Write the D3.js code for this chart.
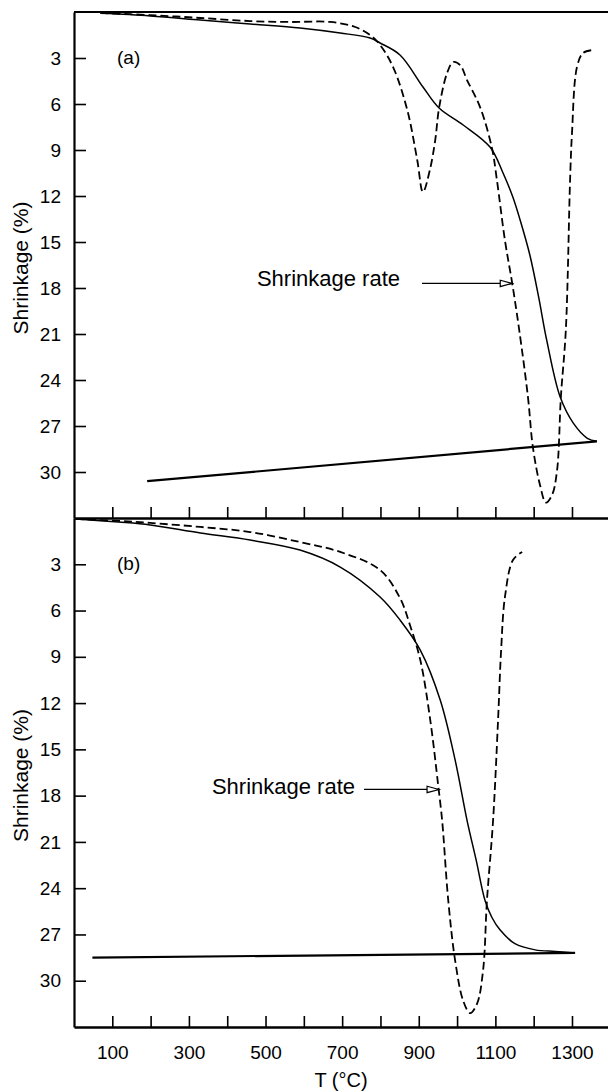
<!DOCTYPE html>
<html>
<head>
<meta charset="utf-8">
<script src="https://cdn.jsdelivr.net/npm/d3@7"></script>
<style>
  html, body { margin: 0; padding: 0; background: #fff; }
  svg { display: block; }
  text { font-family: "Liberation Sans", Arial, Helvetica, sans-serif; fill: #000; }
</style>
</head>
<body>
<svg id="chart" width="608" height="1091"></svg>
<script>
// Temperature (°C) and shrinkage (%) readings for the two dilatometer runs.
// Panel (a): shrinkage curve, shrinkage-rate curve (dashed) and the cooling line.
const aShrink = [
  [69, 0.07], [199, 0.26], [330, 0.52], [460, 0.78], [590, 1.04], [695, 1.37],
  [773, 1.70], [799, 2.02], [851, 2.80], [911, 4.89], [953, 6.26], [1016, 7.37],
  [1086, 8.81], [1120, 10.5], [1146, 12.1], [1165, 13.6], [1190, 15.85],
  [1213, 18.6], [1234, 21.4], [1269, 25.1], [1303, 26.8], [1340, 27.8], [1365, 28.0]
];
const aRate = [
  [69, 0.07], [199, 0.2], [330, 0.39], [460, 0.59], [564, 0.65], [669, 0.65],
  [734, 0.98], [773, 1.5], [799, 2.15], [833, 3.59], [870, 6.39], [896, 9.65],
  [911, 11.74], [929, 10.3], [943, 8.35], [953, 6.26], [974, 3.98], [990, 3.26],
  [1008, 3.46], [1026, 4.44], [1060, 6.2], [1091, 8.87], [1104, 10.96],
  [1125, 14.9], [1144, 17.7], [1162, 20.7], [1185, 25.1], [1198, 28.4],
  [1217, 30.9], [1232, 32.0], [1248, 31.5], [1261, 29.9], [1271, 25.1],
  [1284, 20.7], [1295, 10.96], [1300, 7.9], [1313, 3.59], [1329, 2.67], [1355, 2.48]
];
const aCooling = [[191, 30.6], [1365, 28.0]];

// Panel (b)
const bShrink = [
  [5, 0.06], [116, 0.26], [199, 0.45], [330, 0.97], [460, 1.43], [590, 2.08],
  [695, 3.18], [799, 5.12], [851, 6.61], [904, 8.56], [956, 11.8], [995, 15.7],
  [1026, 19.6], [1050, 22.2], [1073, 24.8], [1091, 25.9], [1112, 26.7],
  [1151, 27.6], [1204, 28.0], [1256, 28.1], [1308, 28.2]
];
const bRate = [
  [5, 0.06], [116, 0.19], [199, 0.32], [330, 0.58], [460, 0.91], [590, 1.56],
  [695, 2.2], [799, 3.37], [851, 5.19], [877, 6.94], [904, 9.21], [930, 13.1],
  [951, 17.4], [961, 19.6], [977, 24.8], [995, 28.7], [1016, 31.3], [1034, 32.1],
  [1052, 31.5], [1068, 29.3], [1078, 24.8], [1094, 19.6], [1107, 13.1],
  [1115, 8.56], [1125, 5.12], [1146, 2.72], [1170, 2.2]
];
const bCooling = [[48, 28.5], [1308, 28.2]];

// Axis ticks and labels
const tempTicks = [100, 200, 300, 400, 500, 600, 700, 800, 900, 1000, 1100, 1200, 1300];
const tempLabels = [100, 300, 500, 700, 900, 1100, 1300];
const shrinkTicks = [3, 6, 9, 12, 15, 18, 21, 24, 27, 30];
const panelNames = ["(a)", "(b)"];
const rateLabel = "Shrinkage rate";
// Point on each rate curve that the label arrow touches: [T, shrinkage]
const rateArrowTips = [[1144, 17.7], [953, 17.6]];

const svg = d3.select("#chart");

const x = d3.scaleLinear().domain([0, 1394]).range([74, 608]);
const yA = d3.scaleLinear().domain([0, 33]).range([12, 518]);
const yB = d3.scaleLinear().domain([0, 33]).range([518, 1027]);

const panels = [
  { y: yA, shrink: aShrink, rate: aRate, cooling: aCooling, name: panelNames[0],
    tip: rateArrowTips[0], labelEnd: 400, labelGap: 22, labelDy: 3 },
  { y: yB, shrink: bShrink, rate: bRate, cooling: bCooling, name: panelNames[1],
    tip: rateArrowTips[1], labelEnd: 355, labelGap: 9, labelDy: 5 }
];

panels.forEach((p, i) => {
  const g = svg.append("g");
  const line = d3.line()
    .x(d => x(d[0]))
    .y(d => p.y(d[1]))
    .curve(d3.curveCatmullRom.alpha(0.5));

  // Left axis with inward ticks
  const yAxis = d3.axisLeft(p.y)
    .tickValues(shrinkTicks)
    .tickSizeInner(-12)
    .tickSizeOuter(0)
    .tickPadding(13)
    .tickFormat(d3.format("d"));
  const ya = g.append("g").attr("transform", `translate(${x(0)},0)`).call(yAxis);
  ya.select(".domain").attr("stroke-width", 2.2);
  ya.selectAll(".tick line").attr("stroke-width", 1.6);
  ya.selectAll(".tick text").attr("font-size", 19)
    .attr("font-family", "'Liberation Sans', Arial, sans-serif");

  // Bottom axis (inward ticks); labels only under the lower panel
  const xAxis = d3.axisBottom(x)
    .tickValues(tempTicks)
    .tickSizeInner(-11)
    .tickSizeOuter(0)
    .tickPadding(19)
    .tickFormat(d => (i === 1 && tempLabels.includes(d)) ? d : "");
  const xa = g.append("g").attr("transform", `translate(0,${p.y.range()[1]})`).call(xAxis);
  xa.select(".domain").attr("stroke-width", i === 0 ? 2.6 : 2.4);
  xa.selectAll(".tick line").attr("stroke-width", 1.6);
  xa.selectAll(".tick text").attr("font-size", 19)
    .attr("font-family", "'Liberation Sans', Arial, sans-serif");

  // Cooling line
  g.append("path").datum(p.cooling)
    .attr("d", d3.line().x(d => x(d[0])).y(d => p.y(d[1])))
    .attr("fill", "none").attr("stroke", "#000").attr("stroke-width", 2.2);

  // Shrinkage curve
  g.append("path").datum(p.shrink)
    .attr("d", line)
    .attr("fill", "none").attr("stroke", "#000").attr("stroke-width", 1.5);

  // Shrinkage-rate curve
  g.append("path").datum(p.rate)
    .attr("d", line)
    .attr("fill", "none").attr("stroke", "#000").attr("stroke-width", 1.8)
    .attr("stroke-dasharray", "8,4");

  // Panel tag
  g.append("text")
    .attr("x", 117).attr("y", p.y(3) + 6)
    .attr("font-size", 19)
    .text(p.name);

  // Rate label with arrow pointing at the dashed curve
  const tx = x(p.tip[0]), ty = p.y(p.tip[1]);
  g.append("text")
    .attr("x", p.labelEnd).attr("y", ty + p.labelDy)
    .attr("text-anchor", "end")
    .attr("font-size", 22)
    .text(rateLabel);
  const head = 12;
  g.append("line")
    .attr("x1", p.labelEnd + p.labelGap).attr("x2", tx - head)
    .attr("y1", ty).attr("y2", ty)
    .attr("stroke", "#000").attr("stroke-width", 1.3);
  g.append("path")
    .attr("d", `M${tx},${ty} L${tx - head},${ty - 3.2} L${tx - head},${ty + 3.2} Z`)
    .attr("fill", "#fff").attr("stroke", "#000").attr("stroke-width", 1.2);

  // Axis title
  g.append("text")
    .attr("transform", `translate(28,${(p.y.range()[0] + p.y.range()[1]) / 2 + 3}) rotate(-90)`)
    .attr("text-anchor", "middle")
    .attr("font-size", 21)
    .text("Shrinkage (%)");
});

// Frame line along the top of panel (a)
svg.append("line")
  .attr("x1", x(0)).attr("x2", x.range()[1])
  .attr("y1", yA(0)).attr("y2", yA(0))
  .attr("stroke", "#000").attr("stroke-width", 2);

// Temperature axis title
svg.append("text")
  .attr("x", 341).attr("y", 1087)
  .attr("text-anchor", "middle")
  .attr("font-size", 20)
  .text("T (°C)");
</script>
</body>
</html>
